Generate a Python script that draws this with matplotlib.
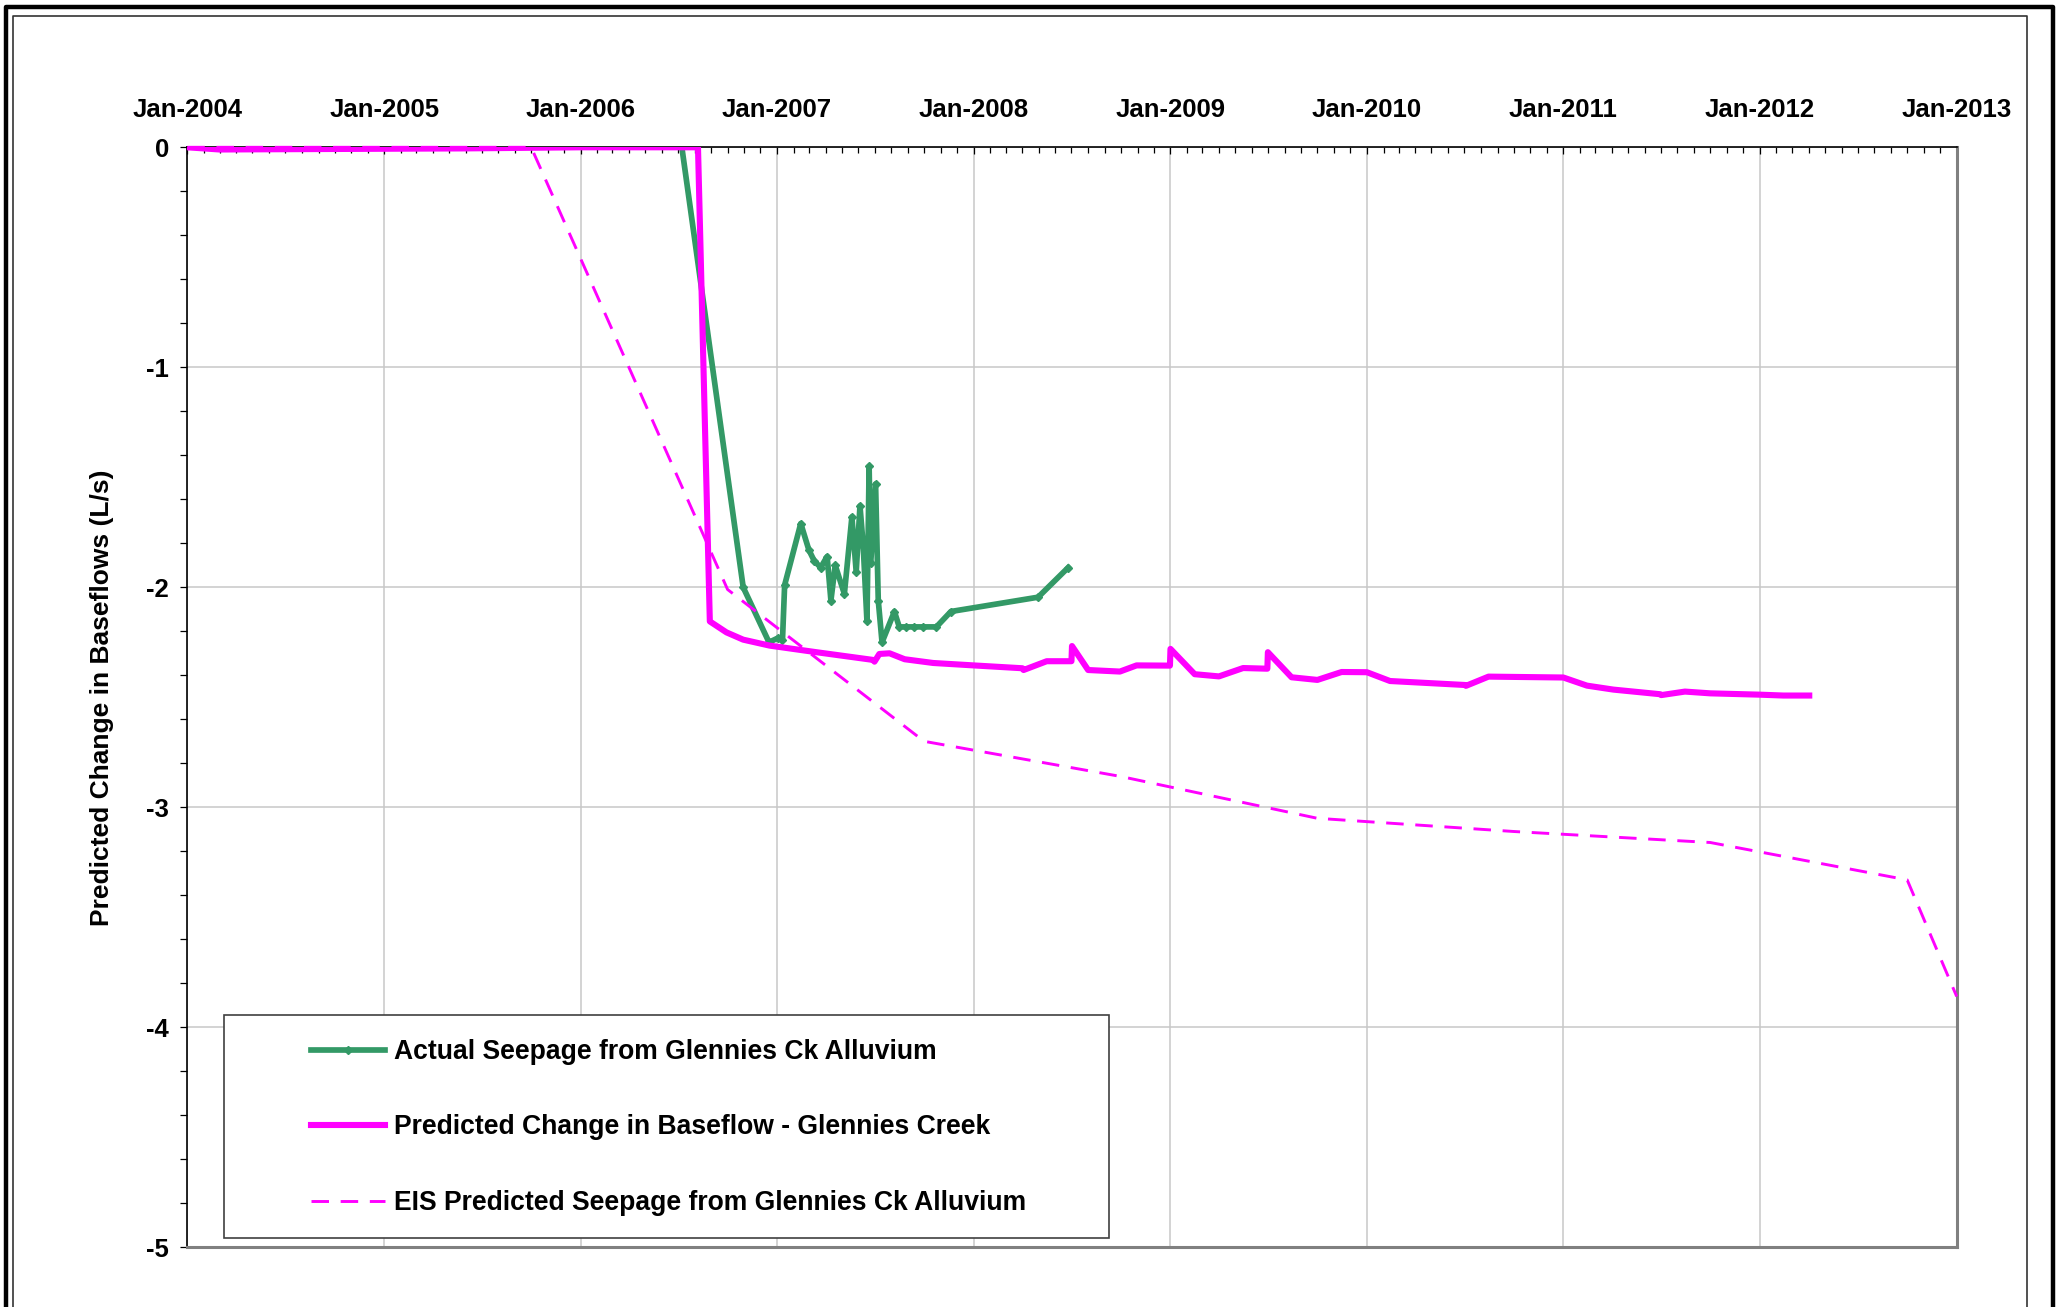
import numpy as np
import matplotlib
matplotlib.use("Agg")
import matplotlib.pyplot as plt
import matplotlib.dates as mdates
from matplotlib.ticker import MultipleLocator
from matplotlib.patches import Rectangle
from matplotlib.lines import Line2D

plt.rcParams['font.family'] = ['Liberation Sans', 'DejaVu Sans']
plt.rcParams['font.weight'] = 'bold'
plt.rcParams['axes.unicode_minus'] = False

# 实测渗漏 (green)
actual_dates = ["2006-07-08", "2006-10-30", "2006-12-17", "2007-01-03", "2007-01-11",
                "2007-01-15", "2007-02-14", "2007-03-01", "2007-03-11", "2007-03-23",
                "2007-04-04", "2007-04-11", "2007-04-19", "2007-05-06", "2007-05-20",
                "2007-05-28", "2007-06-04", "2007-06-10", "2007-06-17", "2007-06-21",
                "2007-06-24", "2007-07-03", "2007-07-08", "2007-07-15", "2007-08-07",
                "2007-08-16", "2007-08-29", "2007-09-12", "2007-09-29", "2007-10-24",
                "2007-11-20", "2008-04-30", "2008-06-25"]
actual_vals = [0.0, -2.00, -2.25, -2.23, -2.24,
               -1.99, -1.71, -1.83, -1.88, -1.91,
               -1.86, -2.06, -1.90, -2.03, -1.68,
               -1.93, -1.63, -1.81, -2.155, -1.45,
               -1.89, -1.53, -2.06, -2.25, -2.11,
               -2.18, -2.18, -2.18, -2.18, -2.18,
               -2.11, -2.045, -1.91]

# 预测基流变化 (magenta solid)
pred_dates = ["2004-01-01", "2004-03-01", "2005-06-01", "2006-01-01", "2006-08-07",
              "2006-08-29", "2006-09-29", "2006-10-30", "2006-12-18", "2007-03-15",
              "2007-06-28", "2007-07-01", "2007-07-10", "2007-07-29", "2007-08-26",
              "2007-10-18", "2008-01-01", "2008-04-01", "2008-04-03", "2008-05-16",
              "2008-07-01", "2008-07-02", "2008-08-01", "2008-09-29", "2008-10-30",
              "2008-12-31", "2009-01-01", "2009-02-15", "2009-04-01", "2009-05-16",
              "2009-06-30", "2009-07-01", "2009-08-14", "2009-10-01", "2009-11-15",
              "2010-01-01", "2010-02-13", "2010-07-02", "2010-07-04", "2010-08-15",
              "2011-01-01", "2011-02-14", "2011-04-04", "2011-06-30", "2011-07-02",
              "2011-08-15", "2011-10-01", "2012-01-01", "2012-02-14", "2012-04-02"]
pred_vals = [0.0, -0.01, -0.005, 0.0, 0.0,
             -2.155, -2.205, -2.238, -2.265, -2.295,
             -2.33, -2.338, -2.303, -2.30, -2.327,
             -2.344, -2.355, -2.368, -2.376, -2.336,
             -2.336, -2.267, -2.376, -2.383, -2.355,
             -2.356, -2.28, -2.395, -2.405, -2.367,
             -2.37, -2.295, -2.409, -2.421, -2.385,
             -2.386, -2.426, -2.444, -2.448, -2.406,
             -2.41, -2.447, -2.465, -2.486, -2.49,
             -2.474, -2.482, -2.488, -2.492, -2.492]

# EIS 预测 (magenta dashed)
eis_dates = ["2004-01-01", "2005-10-01", "2006-10-01", "2007-10-01", "2008-10-01",
             "2009-10-01", "2010-10-01", "2011-10-01", "2012-10-01", "2013-01-01"]
eis_vals = [0.0, 0.0, -2.01, -2.70, -2.86, -3.05, -3.11, -3.16, -3.33, -3.86]

labels = ["Actual Seepage from Glennies Ck Alluvium",
          "Predicted Change in Baseflow - Glennies Creek",
          "EIS Predicted Seepage from Glennies Ck Alluvium"]

green = '#339966'
pink = '#FF00FF'

W, H = 2058, 1307
fig = plt.figure(figsize=(W / 100, H / 100), dpi=100)
ax = fig.add_axes([187.3 / W, 1 - 1247.3 / H, 1769.4 / W, 1100 / H])

ax.plot(np.array(actual_dates, dtype='datetime64[D]'), actual_vals, color=green, lw=4.1,
        marker='D', ms=4, mfc=green, mec=green, label=labels[0], zorder=3)
ax.plot(np.array(pred_dates, dtype='datetime64[D]'), pred_vals, color=pink, lw=4.4,
        label=labels[1], zorder=3)
ax.plot(np.array(eis_dates, dtype='datetime64[D]'), eis_vals, color=pink, lw=2.1,
        dashes=(6, 4), label=labels[2], zorder=3, clip_on=False)

ax.set_xlim(np.datetime64('2004-01-01'), np.datetime64('2013-01-01'))
ax.set_ylim(-5, 0)

# x轴放在上面
ax.xaxis.set_major_locator(mdates.YearLocator())
ax.xaxis.set_minor_locator(mdates.MonthLocator())
ax.xaxis.set_major_formatter(mdates.DateFormatter('%b-%Y'))
ax.xaxis.tick_top()
ax.tick_params(axis='x', which='both', direction='in', top=True, bottom=False,
               labeltop=True, labelbottom=False, color='black', width=0.9)
ax.tick_params(axis='x', which='major', length=5, pad=18, labelsize=18.5)
ax.tick_params(axis='x', which='minor', length=4)

ax.yaxis.set_major_locator(MultipleLocator(1))
ax.yaxis.set_minor_locator(MultipleLocator(0.2))
ax.tick_params(axis='y', which='both', direction='out', length=5, width=0.9, color='black')
ax.tick_params(axis='y', which='major', pad=8, labelsize=18.5)
ax.yaxis.set_major_formatter(plt.FuncFormatter(lambda v, p: '%d' % round(v)))

ax.grid(True, which='major', color='#c8c8c8', lw=1.1)
ax.set_axisbelow(True)

ax.spines['left'].set_color('black')
ax.spines['top'].set_color('black')
ax.spines['left'].set_linewidth(1.2)
ax.spines['top'].set_linewidth(1.2)
ax.spines['right'].set_color('#808080')
ax.spines['bottom'].set_color('#808080')
ax.spines['right'].set_linewidth(2.2)
ax.spines['bottom'].set_linewidth(2.2)

fig.text(102 / W, 1 - 697.3 / H, "Predicted Change in Baseflows (L/s)", rotation=90,
         ha='center', va='center', fontsize=19, fontweight='bold')

# 图例框
ax.add_patch(Rectangle((224 / W, 1 - 1238 / H), 885 / W, 223 / H, transform=fig.transFigure,
                       facecolor='white', edgecolor='#404040', lw=1.2, zorder=4, clip_on=False))
leg = ax.legend(loc='center left', bbox_to_anchor=(311 / W, 1 - 1127.5 / H),
                bbox_transform=fig.transFigure, frameon=False, borderpad=0, borderaxespad=0,
                handlelength=2.8, handletextpad=0.32, labelspacing=1.86,
                prop={'size': 19.1, 'weight': 'bold'}, numpoints=1)
leg.set_zorder(5)

# 外边框
fig.add_artist(Line2D([6 / W, 6 / W, 2053 / W, 2053 / W], [-0.1, 1 - 6.5 / H, 1 - 6.5 / H, -0.1],
                      transform=fig.transFigure, color='black', lw=3.2))
fig.add_artist(Line2D([12.5 / W, 12.5 / W, 2027 / W, 2027 / W], [-0.1, 1 - 16 / H, 1 - 16 / H, -0.1],
                      transform=fig.transFigure, color='#333333', lw=1.2))

fig.savefig('out.png', dpi=100)
